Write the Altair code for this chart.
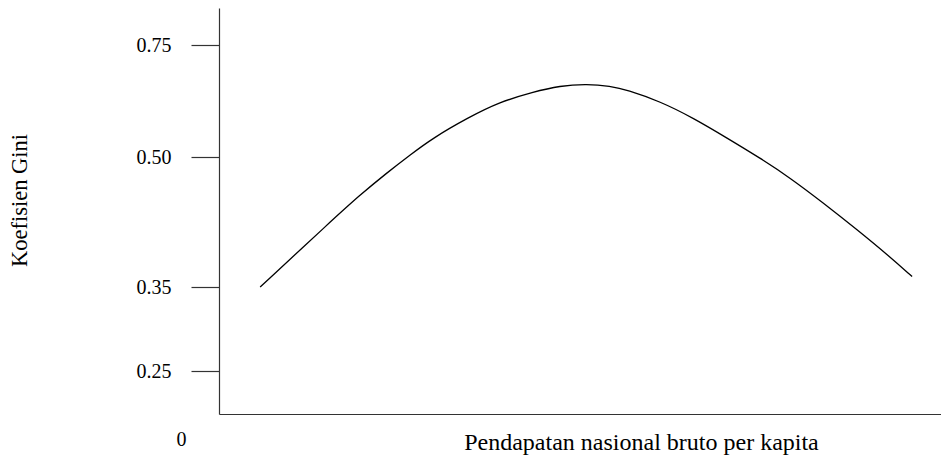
import altair as alt
import pandas as pd

# Kuznets curve: income (abstract units) vs Gini coefficient
income = [5.7, 15.4, 19.5, 23.3, 26.5, 29.6, 34.4, 38.9, 43.5, 47.2, 51.0,
          54.2, 56.5, 61.1, 65.7, 70.4, 74.9, 79.1, 83.7, 88.4, 92.9, 96.0]
gini = [0.350, 0.425, 0.456, 0.482, 0.505, 0.542, 0.587, 0.623, 0.645, 0.659, 0.663,
        0.658, 0.650, 0.624, 0.587, 0.542, 0.499, 0.476, 0.447, 0.416, 0.385, 0.362]

y_ticks = [0.25, 0.35, 0.50, 0.75]
y_domain = [0, 0.25, 0.35, 0.50, 0.75, 0.8326]
y_range = [406, 363, 279, 149, 37, 0]

df = pd.DataFrame({"income": income, "gini": gini})

FONT = "Liberation Serif"

chart = alt.Chart(df).mark_line(
    color="black", strokeWidth=1.3, interpolate="basis"
).encode(
    x=alt.X(
        "income:Q",
        scale=alt.Scale(domain=[0, 100], nice=False, zero=False),
        axis=alt.Axis(
            title="Pendapatan nasional bruto per kapita",
            values=[0],
            labelExpr="'0'",
            ticks=False,
            grid=False,
            labelFlush=False,
            labelAlign="center",
            labelBaseline="middle",
            labelOffset=-38,
            labelPadding=25,
            labelFont=FONT,
            labelFontSize=20,
            labelColor="black",
            titleFont=FONT,
            titleFontSize=24,
            titleFontWeight="normal",
            titleColor="black",
            titleX=422,
            titleY=28,
            titleAlign="center",
            titleBaseline="middle",
            domainColor="#333333",
            domainWidth=1.2,
        ),
    ),
    y=alt.Y(
        "gini:Q",
        scale=alt.Scale(domain=y_domain, range=y_range, nice=False, zero=False),
        axis=alt.Axis(
            title="Koefisien Gini",
            values=y_ticks,
            format=".2f",
            grid=False,
            tickSize=28,
            tickColor="#333333",
            tickWidth=1.2,
            labelPadding=20,
            labelFont=FONT,
            labelFontSize=20,
            labelColor="black",
            labelBaseline="middle",
            titleFont=FONT,
            titleFontSize=22.5,
            titleFontWeight="normal",
            titleColor="black",
            titleAngle=-90,
            titleX=-200,
            titleY=192,
            titleAlign="center",
            titleBaseline="middle",
            domainColor="#333333",
            domainWidth=1.2,
        ),
    ),
).properties(
    width=722,
    height=406,
    autosize=alt.AutoSizeParams(type="none"),
    padding={"left": 211, "top": 0, "right": 0, "bottom": 41},
).configure_view(stroke=None).configure_axis(
    titleFont=FONT, labelFont=FONT
)

chart.save("out.html", embed_options={"renderer": "svg", "actions": False})
